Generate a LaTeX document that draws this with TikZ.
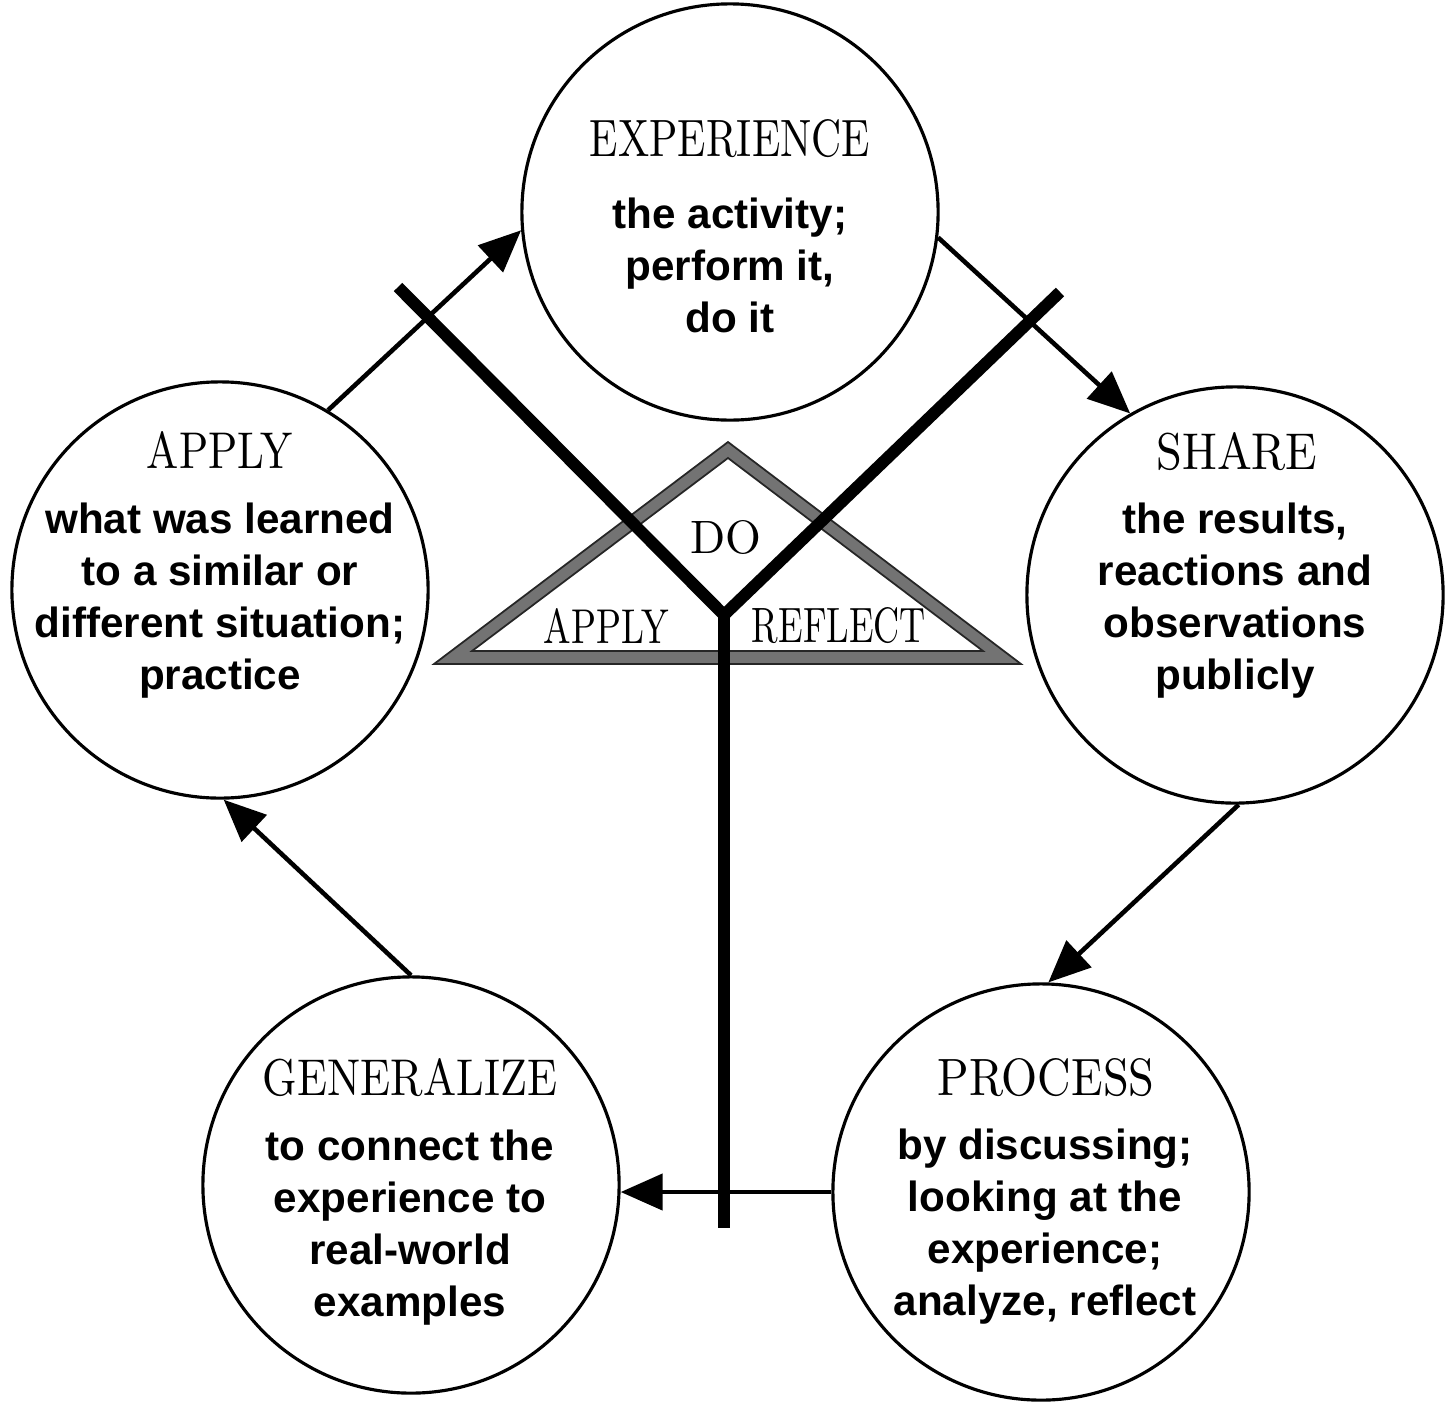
\documentclass[tikz,border=0pt]{standalone}
\usepackage{fontspec}
\usepackage{graphicx}
\newfontfamily\bodyfont{Liberation Sans}
\usetikzlibrary{arrows.meta}
\newcommand{\ttl}[3][0.37cm]{\resizebox{#2}{#1}{#3}}

\begin{document}
\begin{tikzpicture}[x=0.01cm, y=-0.01cm,
  stage/.style={circle, draw, line width=0.9pt, minimum size=4.16cm, inner sep=0pt},
  ttlnode/.style={inner sep=0pt},
  body/.style={anchor=north, inner sep=0pt, align=center,
    font=\bodyfont\bfseries\fontsize{12}{14.8}\selectfont},
  flow/.style={line width=1.3pt, -{Triangle[length=0.42cm, width=0.36cm]}},
  stem/.style={line width=3.4pt, line join=miter},
  band/.style={fill=black!55, draw=black!85, line width=0.5pt, even odd rule}]
\useasboundingbox (0,0) rectangle (1455,1403);

% the five stages
\node[stage] (exp) at (730,212){};
\node[stage] (share) at (1235,595){};
\node[stage] (proc) at (1041,1192){};
\node[stage] (gen) at (411,1185){};
\node[stage] (apply) at (220,590){};

\node[ttlnode] (exp t) at (730,139){\ttl{2.80cm}{EXPERIENCE}};
\node[body] (exp b) at (730,197){the activity;\\perform it,\\do it};
\node[ttlnode] (share t) at (1237,452){\ttl{1.61cm}{SHARE}};
\node[body] (share b) at (1235,502){the results,\\reactions and\\observations\\publicly};
\node[ttlnode] (proc t) at (1046,1078){\ttl{2.17cm}{PROCESS}};
\node[body] (proc b) at (1045,1128){by discussing;\\looking at the\\experience;\\analyze, reflect};
\node[ttlnode] (gen t) at (410,1078){\ttl{2.94cm}{GENERALIZE}};
\node[body] (gen b) at (410,1129){to connect the\\experience to\\real-world\\examples};
\node[ttlnode] (apply t) at (220,450){\ttl{1.46cm}{APPLY}};
\node[body] (apply b) at (220,502){what was learned\\to a similar or\\different situation;\\practice};

% do / reflect / apply triangle
\path[band] (728,442) -- (434,664) -- (1021,664) -- cycle
  (728,458) -- (472,651) -- (983,651) -- cycle;
\node[ttlnode] (do) at (726,537){\ttl[0.33cm]{0.71cm}{DO}};
\node[ttlnode] (tri apply) at (606,626){\ttl[0.35cm]{1.25cm}{APPLY}};
\node[ttlnode] (tri refl) at (839,626){\ttl[0.35cm]{1.74cm}{REFLECT}};

% the Y
\coordinate (arm l) at (398,287);
\coordinate (arm r) at (1060,292);
\coordinate (fork) at (724,615);
\coordinate (foot) at (724,1228);
\draw[stem] (arm l) -- (fork) -- (arm r);
\draw[stem] (fork) -- (foot);

% cycle arrows
\draw[flow] (apply.59) -- (exp.185);
\draw[flow] (exp.353) -- (share.120);
\draw[flow] (share.271) -- (proc.88);
\draw[flow] (proc.180) -- (proc.180 -| gen.east);
\draw[flow] (gen.90) -- (apply.271);

\end{tikzpicture}
\end{document}
